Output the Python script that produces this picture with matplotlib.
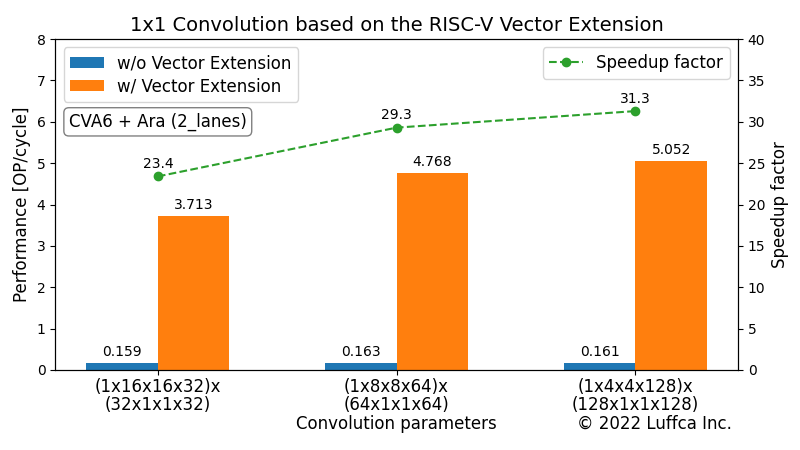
import matplotlib
matplotlib.use("Agg")
import matplotlib.pyplot as plt
import numpy as np

# Chart data
categories = ["(1x16x16x32)x\n(32x1x1x32)", "(1x8x8x64)x\n(64x1x1x64)", "(1x4x4x128)x\n(128x1x1x128)"]
perf_without = [0.159, 0.163, 0.161]
perf_with = [3.713, 4.768, 5.052]
speedup = [23.4, 29.3, 31.3]

x = np.arange(len(categories))
width = 0.3

fig, ax1 = plt.subplots(figsize=(8, 4.5), dpi=100)
fig.subplots_adjust(left=0.069, right=0.9225, top=0.913, bottom=0.178)

b1 = ax1.bar(x - width / 2, perf_without, width, color="#1f77b4", label="w/o Vector Extension")
b2 = ax1.bar(x + width / 2, perf_with, width, color="#ff7f0e", label="w/ Vector Extension")
ax1.bar_label(b1, labels=[f"{v:.3f}" for v in perf_without], padding=3, fontsize=10)
ax1.bar_label(b2, labels=[f"{v:.3f}" for v in perf_with], padding=3, fontsize=10)
ax1.set_ylim(0, 8)
ax1.set_ylabel("Performance [OP/cycle]", fontsize=12)
ax1.set_xlabel("Convolution parameters", fontsize=12, labelpad=1)
ax1.set_xticks(x)
ax1.set_xticklabels(categories, fontsize=12, linespacing=0.95)
ax1.tick_params(axis="x", pad=2.5)
ax1.legend(loc="upper left", fontsize=12, labelspacing=0.3, handleheight=0.6)
ax1.text(0.02, 0.75, "CVA6 + Ara (2_lanes)", transform=ax1.transAxes, fontsize=12,
         va="center", ha="left",
         bbox=dict(boxstyle="round", facecolor="white", edgecolor="gray"))
ax1.set_title("1x1 Convolution based on the RISC-V Vector Extension", fontsize=14)

ax2 = ax1.twinx()
ax2.plot(x, speedup, "--o", color="#2ca02c", label="Speedup factor")
for xi, v in zip(x, speedup):
    ax2.annotate(f"{v:.1f}", (xi, v), textcoords="offset points", xytext=(0, 6),
                 ha="center", fontsize=10)
ax2.set_ylim(0, 40)
ax2.set_ylabel("Speedup factor", fontsize=12)
ax2.legend(loc="upper right", fontsize=12)

fig.text(0.915, 0.058, "\u00a9 2022 Luffca Inc.", ha="right", va="center", fontsize=12)

fig.savefig("out.png")
